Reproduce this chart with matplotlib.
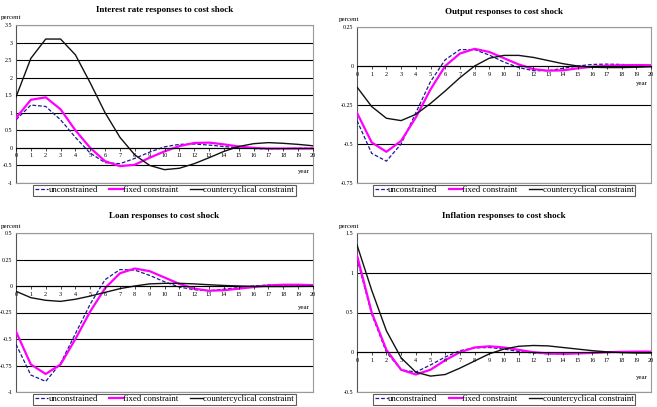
import matplotlib
matplotlib.use("Agg")
import matplotlib.pyplot as plt
import numpy as np

plt.rcParams['font.family'] = ['Liberation Serif', 'DejaVu Serif']

years = list(range(21))
x_tick_labels = [str(i) for i in years]
series_names = ["unconstrained", "fixed constraint", "countercyclical constraint"]

# Interest rate
ir_unc = [0.8, 1.22, 1.18, 0.8, 0.3, -0.15, -0.42, -0.45, -0.3, -0.12, 0.03, 0.1, 0.11, 0.08, 0.04, 0.0, -0.02, -0.03, -0.02, -0.01, -0.01]
ir_fix = [0.85, 1.37, 1.44, 1.1, 0.5, 0.0, -0.38, -0.52, -0.48, -0.28, -0.1, 0.05, 0.14, 0.15, 0.1, 0.04, 0.0, -0.02, -0.02, -0.02, -0.02]
ir_cc = [1.45, 2.55, 3.1, 3.1, 2.65, 1.85, 1.0, 0.3, -0.2, -0.5, -0.62, -0.58, -0.45, -0.28, -0.1, 0.04, 0.12, 0.15, 0.13, 0.1, 0.06]

# Output
out_unc = [-0.35, -0.56, -0.61, -0.5, -0.3, -0.1, 0.04, 0.105, 0.105, 0.07, 0.025, -0.01, -0.03, -0.03, -0.015, 0.0, 0.01, 0.012, 0.01, 0.005, 0.003]
out_fix = [-0.3, -0.49, -0.55, -0.48, -0.33, -0.15, 0.0, 0.08, 0.11, 0.09, 0.05, 0.01, -0.02, -0.03, -0.028, -0.015, -0.005, 0.002, 0.005, 0.006, 0.005]
out_cc = [-0.135, -0.26, -0.335, -0.35, -0.31, -0.24, -0.16, -0.075, 0.0, 0.05, 0.068, 0.068, 0.055, 0.035, 0.015, 0.0, -0.008, -0.01, -0.01, -0.008, -0.005]

# Loan
loan_unc = [-0.55, -0.84, -0.9, -0.73, -0.45, -0.17, 0.06, 0.155, 0.15, 0.1, 0.04, -0.01, -0.035, -0.045, -0.03, -0.015, 0.0, 0.01, 0.01, 0.008, 0.005]
loan_fix = [-0.43, -0.74, -0.83, -0.74, -0.5, -0.24, -0.02, 0.12, 0.165, 0.14, 0.08, 0.02, -0.025, -0.045, -0.04, -0.025, -0.01, 0.005, 0.012, 0.012, 0.008]
loan_cc = [-0.05, -0.11, -0.135, -0.145, -0.125, -0.095, -0.06, -0.025, 0.0, 0.02, 0.025, 0.025, 0.02, 0.012, 0.005, 0.0, -0.003, -0.005, -0.005, -0.004, -0.003]

# Inflation
inf_unc = [1.18, 0.48, 0.0, -0.22, -0.25, -0.16, -0.06, 0.02, 0.055, 0.06, 0.04, 0.01, -0.01, -0.02, -0.02, -0.012, -0.005, 0.0, 0.003, 0.003, 0.002]
inf_fix = [1.22, 0.5, 0.03, -0.22, -0.28, -0.22, -0.1, 0.0, 0.06, 0.075, 0.06, 0.03, 0.0, -0.015, -0.02, -0.015, -0.008, 0.0, 0.005, 0.008, 0.008]
inf_cc = [1.35, 0.78, 0.27, -0.07, -0.25, -0.3, -0.28, -0.2, -0.11, -0.02, 0.04, 0.075, 0.085, 0.08, 0.06, 0.04, 0.02, 0.005, -0.005, -0.01, -0.01]

panels = [
    dict(title="Interest rate responses to cost shock", data=(ir_unc, ir_fix, ir_cc),
         yticks=[-1, -0.5, 0, 0.5, 1, 1.5, 2, 2.5, 3, 3.5],
         ylabels=["-1", "-0.5", "0", "0.5", "1", "1.5", "2", "2.5", "3", "3.5"],
         rect=(16, 25, 313, 183), year_off=24, pct_x=1),
    dict(title="Output responses to cost shock", data=(out_unc, out_fix, out_cc),
         yticks=[-0.75, -0.5, -0.25, 0, 0.25],
         ylabels=["-0.75", "-0.5", "-0.25", "0", "0.25"],
         rect=(357, 27, 651, 183), year_off=18, pct_x=339),
    dict(title="Loan responses to cost shock", data=(loan_unc, loan_fix, loan_cc),
         yticks=[-1, -0.75, -0.5, -0.25, 0, 0.25, 0.5],
         ylabels=["-1", "-0.75", "-0.5", "-0.25", "0", "0.25", "0.5"],
         rect=(16, 233, 313, 392), year_off=21, pct_x=1),
    dict(title="Inflation responses to cost shock", data=(inf_unc, inf_fix, inf_cc),
         yticks=[-0.5, 0, 0.5, 1, 1.5],
         ylabels=["-0.5", "0", "0.5", "1", "1.5"],
         rect=(357, 233, 651, 392), year_off=25, pct_x=339),
]

W, H = 657, 407
fig = plt.figure(figsize=(W / 100, H / 100), dpi=100)

styles = [
    dict(color="#1a1a8c", lw=0.9, ls=(0, (3, 1.5))),
    dict(color="#ff00ff", lw=1.6, ls="-"),
    dict(color="#111111", lw=1.0, ls="-"),
]

for p in panels:
    x0, y0, x1, y1 = p["rect"]
    ax = fig.add_axes([x0 / W, 1 - y1 / H, (x1 - x0) / W, (y1 - y0) / H])
    ymin, ymax = p["yticks"][0], p["yticks"][-1]
    ax.set_xlim(0, 20)
    ax.set_ylim(ymin, ymax)
    for yt in p["yticks"]:
        ax.axhline(yt, color="black", lw=0.8, zorder=1)
    lines = []
    for vals, st, name in zip(p["data"], styles, series_names):
        l, = ax.plot(years, vals, label=name, zorder=3, **st)
        lines.append(l)
    ax.set_yticks(p["yticks"])
    ax.set_yticklabels(p["ylabels"], fontsize=4.3)
    ax.tick_params(axis="y", length=0, pad=2.5)
    ax.set_xticks([])
    for s in ax.spines.values():
        s.set_color("#999999")
        s.set_linewidth(0.8)
    ax.spines["left"].set_color("#555555")
    # x axis through zero: a zero-height axes placed on the zero line
    frac = (0 - ymin) / (ymax - ymin)
    zero_px = y0 + (y1 - y0) * (1 - frac)
    axz = fig.add_axes([x0 / W, 1 - zero_px / H, (x1 - x0) / W, 1e-6])
    axz.set_xlim(0, 20)
    axz.patch.set_visible(False)
    axz.set_yticks([])
    for k in ("top", "left", "right"):
        axz.spines[k].set_visible(False)
    axz.spines["bottom"].set_color("black")
    axz.spines["bottom"].set_linewidth(0.8)
    axz.set_xticks(years)
    axz.set_xticklabels(x_tick_labels, fontsize=4.5)
    axz.tick_params(axis="x", length=2, width=0.5, pad=2, direction="out")
    ax.set_title(p["title"], fontsize=6.5, fontweight="bold", pad=9 if y0 < 30 else 11)
    fig.text(p["pct_x"] / W, 1 - (y0 - 7) / H, "percent", fontsize=5, ha="left", va="center")
    fig.text((x1 - 3) / W, 1 - (zero_px + p["year_off"]) / H, "year", fontsize=5,
             ha="right", va="center")
    leg = ax.legend(lines, series_names, loc="upper center", bbox_to_anchor=(0.5, -0.01),
                    ncol=3, fontsize=6.3, frameon=True, fancybox=False, handlelength=1.5,
                    handletextpad=0.05, columnspacing=1.3, borderpad=0.2, borderaxespad=0)
    leg.get_frame().set_edgecolor("#333333")
    leg.get_frame().set_linewidth(0.8)

fig.savefig("out.png", dpi=100)
